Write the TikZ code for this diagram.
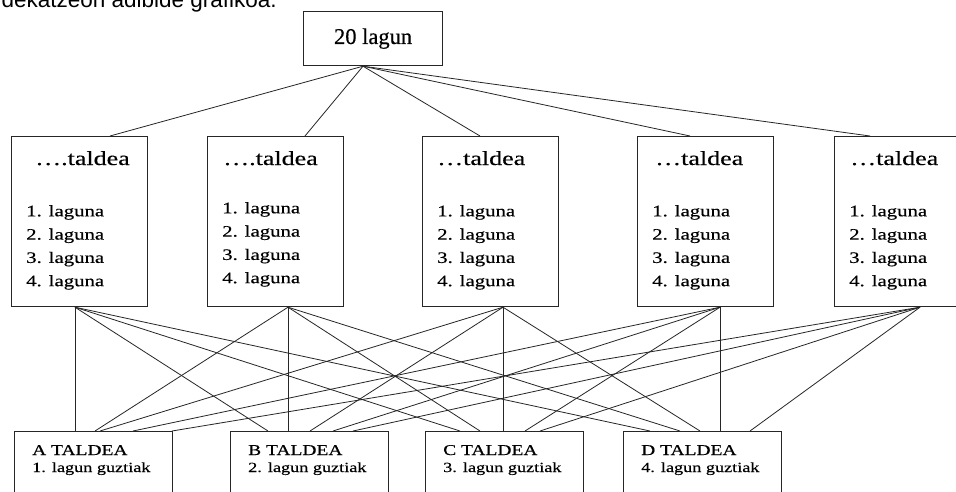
\documentclass[tikz,border=0pt]{standalone}
\usepackage{fontspec}
\setmainfont{Liberation Serif}
\newfontfamily\widefont[FakeStretch=1.3, FakeBold=0.4]{Liberation Serif}
\newfontfamily\topfont[FakeBold=0.4]{Liberation Serif}
\newfontfamily\captionfont{Liberation Sans}
\usetikzlibrary{calc}

\tikzset{
    box/.style={draw=black!85, line width=1.2pt, inner sep=0pt, anchor=north west},
    topbox/.style={box, minimum width=139pt, minimum height=54pt, font=\topfont\fontsize{22.5}{26}\selectfont},
    groupbox/.style={box, minimum width=136pt, minimum height=170pt},
    teambox/.style={box, minimum width=158pt, minimum height=80pt},
    headtext/.style={anchor=base west, inner sep=0pt, font=\widefont\fontsize{20}{24}\selectfont},
    listtext/.style={anchor=base west, inner sep=0pt, font=\widefont\fontsize{16}{19}\selectfont},
    teamtitle/.style={anchor=base west, inner sep=0pt, font=\widefont\fontsize{15}{18}\selectfont},
    teamsub/.style={anchor=base west, inner sep=0pt, font=\widefont\fontsize{14}{17}\selectfont},
    wire/.style={draw=black!85, line width=0.8pt}
}

\begin{document}
\begin{tikzpicture}[x=1pt, y=-1pt]
    \useasboundingbox (0,0) rectangle (956,491);
    \fill[white] (0,0) rectangle (956,491);
    % clipped caption line at the very top
    \node[anchor=base east, inner sep=0pt, font=\captionfont\fontsize{22.5}{26}\selectfont] (caption) at (277,7) {taldekatzeon adibide grafikoa.};
    % whole class
    \node[topbox] (top) at (303,11) {20 lagun};
    \coordinate (topout) at ($(top.south west)+(60,0)$);
    % the five groups
    \foreach \n/\x/\hd/\hx/\ly/\ox in {1/11/{….}/24/0/64, 2/207/{….}/16/-3/81, 3/422/{…}/15/0/81, 4/637/{…}/18/0/83, 5/834/{…}/16/0/86} {
        \node[groupbox] (g\n) at (\x,136) {};
        \node[headtext] (g\n head) at ($(g\n.north west)+(\hx,29)$) {\hd taldea};
        \foreach \i in {1,2,3,4} {
            \node[listtext] (g\n l\i) at ($(g\n.north west)+(15,57+23.3*\i+\ly)$) {\i. laguna};
        }
        \coordinate (g\n out) at ($(g\n.south west)+(\ox,0)$);
    }
    % the four mixed teams
    \foreach \t/\x/\k in {A/14/1, B/230/2, C/425/3, D/623/4} {
        \node[teambox] (t\t) at (\x,431) {};
        \node[teamtitle] (t\t title) at ($(t\t.north west)+(18,24)$) {\t\ TALDEA};
        \node[teamsub] (t\t sub) at ($(t\t.north west)+(18,41)$) {\k. lagun guztiak};
    }
    % class to groups
    \foreach \n/\ix in {1/99, 2/98, 3/58, 4/53, 5/36} {
        \draw[wire] (topout) -- ($(g\n.north west)+(\ix,0)$);
    }
    % groups to teams
    \foreach \t/\a/\b/\c/\d/\e in {A/61/81/86/119/158, B/38/58/80/103/123, C/35/55/78/100/115, D/27/57/77/97/127} {
        \draw[wire] (g1out) -- ($(t\t.north west)+(\a,0)$);
        \draw[wire] (g2out) -- ($(t\t.north west)+(\b,0)$);
        \draw[wire] (g3out) -- ($(t\t.north west)+(\c,0)$);
        \draw[wire] (g4out) -- ($(t\t.north west)+(\d,0)$);
        \draw[wire] (g5out) -- ($(t\t.north west)+(\e,0)$);
    }
\end{tikzpicture}
\end{document}
